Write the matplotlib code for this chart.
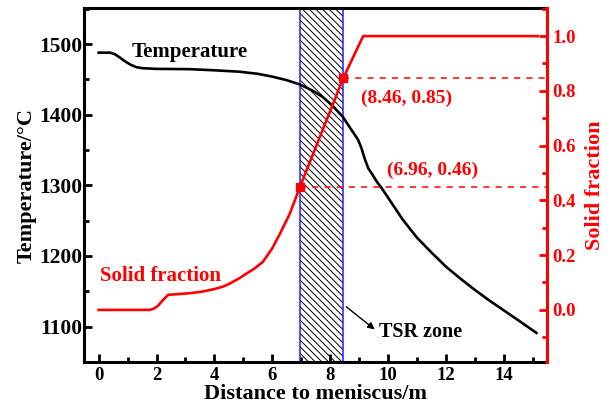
import numpy as np
import matplotlib
matplotlib.use("Agg")
import matplotlib.pyplot as plt

# Temperature profile along the strand
dist_temp = [0.0, 0.4, 0.55, 0.7, 0.9, 1.1, 1.3, 1.5, 2.0, 3.15, 4.0, 4.87, 5.5, 6.0, 6.5,
             6.95, 7.4, 7.75, 8.1, 8.44, 8.73, 8.96, 9.08, 9.2, 9.32, 9.45, 9.6, 9.8,
             10.06, 10.5, 11.0, 11.5, 12.0, 12.5, 13.0, 13.5, 14.0, 14.5, 15.13]
temp = [1488, 1488, 1486, 1482, 1476, 1471, 1467.5, 1466, 1465, 1464.6, 1463, 1461, 1458,
        1454, 1449, 1443, 1434, 1425, 1412, 1397, 1379, 1365, 1353, 1337, 1324, 1316,
        1306, 1295, 1279, 1252, 1226, 1205, 1185, 1168, 1152, 1137, 1123, 1109, 1091]

# Solid fraction profile
dist_fs = [0.0, 1.76, 1.9, 2.05, 2.2, 2.4, 2.8, 3.15, 3.6, 4.0, 4.3, 4.53, 4.87, 5.1,
           5.4, 5.68, 6.0, 6.26, 6.6, 6.96, 8.46, 9.14, 15.17]
solid_fs = [0.0, 0.0, 0.004, 0.015, 0.033, 0.055, 0.058, 0.061, 0.067, 0.076, 0.085,
            0.096, 0.116, 0.132, 0.152, 0.176, 0.225, 0.277, 0.35, 0.45, 0.848, 1.0, 1.0]

# marked points / TSR zone
mark_x = [6.96, 8.46]
mark_fs = [0.45, 0.848]
mark_labels = ["(6.96, 0.46)", "(8.46, 0.85)"]
tsr_zone = (6.96, 8.46)

RED = "#ff0000"
SERIF = "Liberation Serif"

plt.rcParams["font.family"] = SERIF
plt.rcParams["font.weight"] = "bold"
plt.rcParams["hatch.linewidth"] = 0.7

fig = plt.figure(figsize=(6.10, 4.08), dpi=100)
ax = fig.add_axes([0.138, 0.113, 0.759, 0.867])
ax2 = ax.twinx()

# TSR zone: hatched band with blue borders
ax.axvspan(tsr_zone[0], tsr_zone[1], facecolor="none", edgecolor="black",
           hatch="\\\\\\\\\\", linewidth=0, zorder=1)
for xv in tsr_zone:
    ax.axvline(xv, color="#2020ff", lw=1.1, zorder=2)

ax.plot(dist_temp, temp, color="black", lw=1.9, zorder=3)
ax2.plot(dist_fs, solid_fs, color=RED, lw=1.9, zorder=3)
ax2.plot(mark_x, mark_fs, "s", color=RED, ms=6, zorder=4)
for xm, ym in zip(mark_x, mark_fs):
    ax2.plot([xm, 15.5], [ym, ym], "--", color=RED, lw=1.1, dashes=(4, 4))

ax.set_xlim(-0.5, 15.5)
ax.set_ylim(1050, 1551)
ax2.set_ylim(-0.19, 1.102)

ax.set_xticks(np.arange(0, 15, 2))
ax.set_xticks(np.arange(0, 16, 1), minor=True)
ax.set_yticks(np.arange(1100, 1501, 100))
ax.set_yticks(np.arange(1050, 1551, 50), minor=True)
ax2.set_yticks(np.arange(0, 1.01, 0.2))
ax2.set_yticks(np.arange(-0.1, 1.11, 0.1), minor=True)
ax2.set_yticklabels([f"{v:.1f}" for v in np.arange(0, 1.01, 0.2)])

ax.tick_params(axis="both", which="major", direction="in", length=6, width=2,
               labelsize=13.5, pad=4)
ax.tick_params(axis="y", which="major", labelsize=15.5, pad=1.5)
ax.tick_params(axis="both", which="minor", direction="in", length=3.5, width=2)
ax.tick_params(axis="y", right=False)
ax2.tick_params(axis="y", which="major", direction="in", length=6, width=2,
                labelsize=13.5, colors=RED, pad=4)
ax2.tick_params(axis="y", which="minor", direction="in", length=3.5, width=2,
                colors=RED)

for sp in ["left", "bottom", "top"]:
    ax.spines[sp].set_linewidth(2.2)
ax2.spines["right"].set_color(RED)
ax2.spines["right"].set_linewidth(2.2)
for sp in ["left", "bottom", "top"]:
    ax2.spines[sp].set_visible(False)

ax.set_xlabel("Distance to meniscus/m", fontsize=16, fontweight="bold", labelpad=0)
ax.set_ylabel("Temperature/\u00b0C", fontsize=16, fontweight="bold", labelpad=2)
ax2.set_ylabel("Solid fraction", fontsize=16, fontweight="bold", color=RED, labelpad=6)

ax.text(1.13, 1489, "Temperature", fontsize=15, fontweight="bold", va="center", ha="left")
ax2.text(0.03, 0.125, "Solid fraction", fontsize=15, fontweight="bold", color=RED,
         va="center", ha="left")
ax2.text(9.08, 0.773, mark_labels[1], fontsize=14, fontweight="bold", color=RED,
         va="center", ha="left")
ax2.text(9.97, 0.511, mark_labels[0], fontsize=14, fontweight="bold", color=RED,
         va="center", ha="left")

ax.annotate("", xy=(9.54, 1096), xytext=(8.56, 1128),
            arrowprops=dict(arrowstyle="-|>", color="black", lw=1.0,
                            mutation_scale=10, shrinkA=0, shrinkB=0))
ax.text(9.7, 1092, "TSR zone", fontsize=14.5, fontweight="bold", va="center", ha="left")

fig.savefig("out.png", dpi=100)
